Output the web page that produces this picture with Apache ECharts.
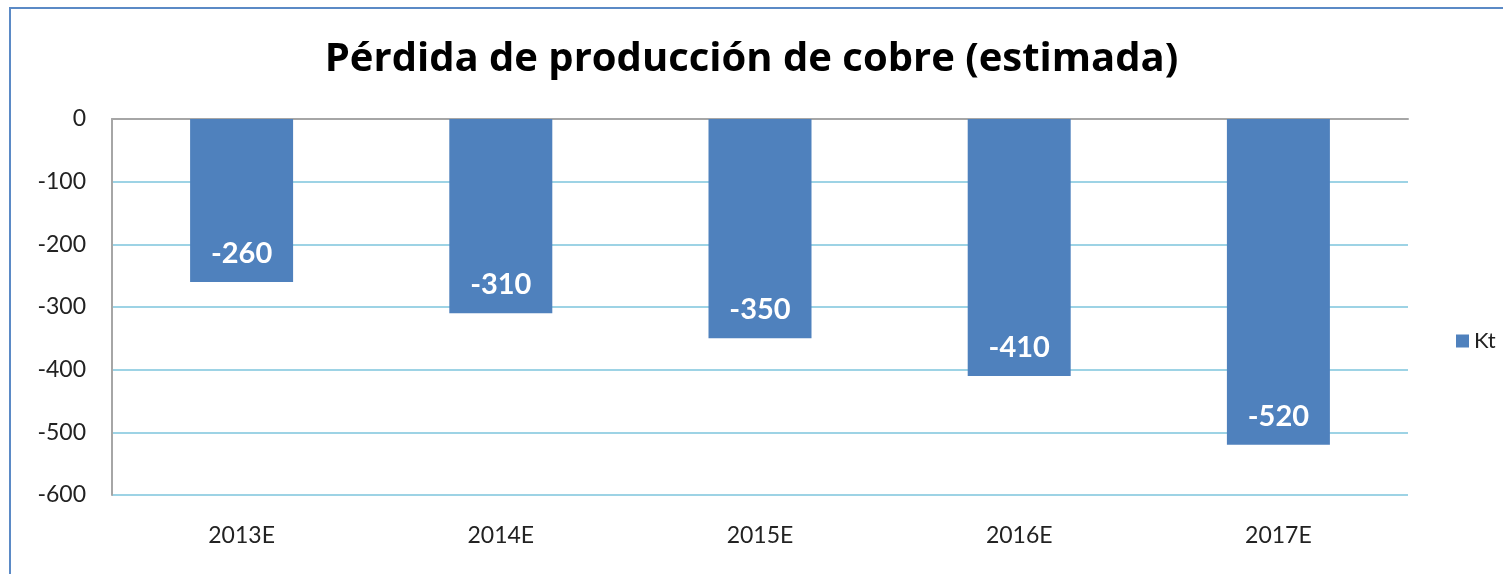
<!DOCTYPE html>
<html>
<head>
<meta charset="utf-8">
<script src="https://cdn.jsdelivr.net/npm/echarts@6/dist/echarts.min.js"></script>
<style>
  html, body { margin: 0; padding: 0; background: #fff; }
  #main { width: 1503px; height: 574px; }
</style>
</head>
<body>
<div id="main"></div>
<script>
// datos
var years = ['2013E', '2014E', '2015E', '2016E', '2017E'];
var kt = [-260, -310, -350, -410, -520];
var yTicks = { min: -600, max: 0, step: 100 };

var chart = echarts.init(document.getElementById('main'));

var option = {
    backgroundColor: '#fff',
    textStyle: { fontFamily: 'Lato, "Open Sans", sans-serif' },
    title: {
        text: 'Pérdida de producción de cobre (estimada)',
        left: 'center',
        top: 35,
        textStyle: { fontSize: 40, fontWeight: 'bold', color: '#000', fontFamily: '"Open Sans", sans-serif' }
    },
    legend: {
        data: ['Kt'],
        orient: 'vertical',
        left: 1451,
        top: 325,
        itemWidth: 13,
        itemHeight: 13,
        itemGap: 6,
        icon: 'rect',
        textStyle: { fontSize: 22, color: '#222' }
    },
    grid: { left: 112, right: 95, top: 119, bottom: 79 },
    xAxis: [
        {
            type: 'category',
            data: years,
            position: 'bottom',
            axisLine: { show: false, onZero: false },
            axisTick: { show: false },
            axisLabel: { fontSize: 23, color: '#222', margin: 29 }
        },
        {
            // linea gris del cero arriba
            type: 'category',
            data: years,
            position: 'top',
            axisLine: { show: true, lineStyle: { color: '#a6a6a6', width: 2 } },
            axisTick: { show: false },
            axisLabel: { show: false }
        }
    ],
    yAxis: {
        type: 'value',
        min: yTicks.min,
        max: yTicks.max,
        interval: yTicks.step,
        axisLine: { show: true, lineStyle: { color: '#a6a6a6', width: 2 } },
        axisTick: { show: false },
        axisLabel: { fontSize: 23, color: '#222', margin: 26 },
        splitLine: { lineStyle: { color: '#7cc4dc', width: 1.5 } }
    },
    series: [{
        name: 'Kt',
        type: 'bar',
        data: kt,
        barWidth: 103,
        itemStyle: { color: '#4f81bd' },
        label: {
            show: true,
            position: 'insideBottom',
            distance: 14,
            fontSize: 29,
            fontWeight: 'bold',
            color: '#fff'
        }
    }],
    graphic: [{
        type: 'rect',
        shape: { x: 10, y: 8, width: 1600, height: 700 },
        style: { fill: 'none', stroke: '#5b8ac6', lineWidth: 2 },
        silent: true
    }]
};

chart.setOption(option);
</script>
</body>
</html>
